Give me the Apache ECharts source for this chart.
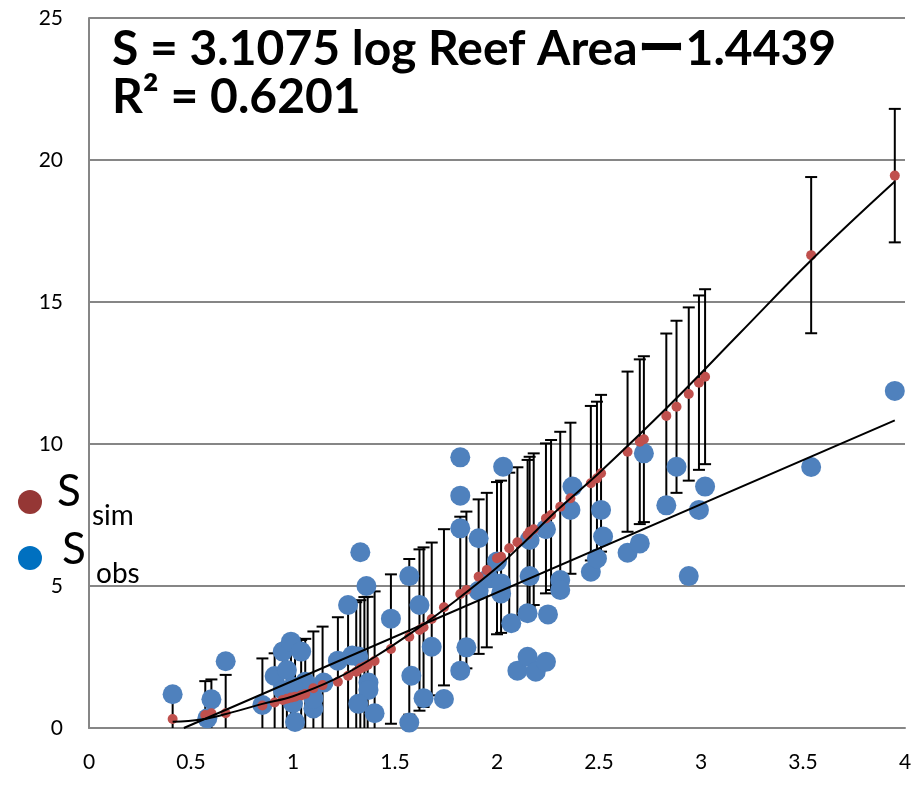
<!DOCTYPE html>
<html>
<head>
<meta charset="utf-8">
<script src="https://cdn.jsdelivr.net/npm/echarts@6/dist/echarts.min.js"></script>
<style>
html, body { margin: 0; padding: 0; background: #fff; }
#chart { width: 915px; height: 791px; }
</style>
</head>
<body>
<div id="chart"></div>
<script>
// simulated richness (red) + error half-widths
const simX = [0.41, 0.57, 0.60, 0.67, 0.85, 0.91, 0.95, 0.97, 0.99, 1.01, 1.04, 1.06, 1.10, 1.145, 1.22,
  1.27, 1.31, 1.33, 1.35, 1.366, 1.40, 1.48, 1.57, 1.62, 1.64, 1.68, 1.74, 1.82, 1.85, 1.91,
  1.95, 2.00, 2.02, 2.06, 2.10, 2.15, 2.16, 2.18, 2.24, 2.265, 2.31, 2.36, 2.46, 2.49, 2.51,
  2.64, 2.70, 2.72, 2.83, 2.88, 2.94, 2.99, 3.02, 3.54, 3.95];
const simY = [0.32, 0.46, 0.52, 0.52, 0.79, 0.90, 0.99, 1.03, 1.07, 1.10, 1.15, 1.20, 1.40, 1.51, 1.63,
  1.84, 1.98, 2.10, 2.16, 2.22, 2.36, 2.78, 3.21, 3.45, 3.55, 3.84, 4.25, 4.72, 4.86, 5.33,
  5.56, 5.98, 6.03, 6.33, 6.54, 6.80, 6.91, 7.00, 7.38, 7.50, 7.79, 8.09, 8.62, 8.79, 8.97,
  9.73, 10.08, 10.17, 10.99, 11.31, 11.76, 12.16, 12.37, 16.65, 19.45];
const simErr = [0.85, 1.19, 1.19, 1.35, 1.66, 1.73, 1.95, 2.0, 2.0, 2.05, 1.95, 1.94, 2.0, 2.06, 2.27,
  2.55, 2.45, 2.4, 2.45, 2.4, 2.45, 2.63, 2.74, 2.84, 2.81, 2.69, 2.75, 2.72, 2.76, 2.72,
  2.72, 2.68, 2.68, 2.66, 2.64, 2.64, 2.64, 2.67, 2.64, 2.64, 2.64, 2.66, 2.72, 2.7, 2.76,
  2.82, 2.9, 2.92, 2.9, 3.03, 3.05, 3.07, 3.08, 2.75, 2.35];

// observed richness (blue)
const obsX = [0.41, 0.58, 0.60, 0.67, 0.85, 0.91, 0.95, 0.99, 1.04, 0.97, 0.95, 1.01, 1.00, 1.06, 1.00,
  1.10, 1.10, 1.15, 1.22, 1.29, 1.32, 1.33, 1.36, 1.27, 1.48, 1.37, 1.37, 1.32, 1.40, 1.57,
  1.62, 1.68, 1.58, 1.64, 1.74, 1.57, 1.82, 1.82, 2.03, 1.82, 1.91, 1.82, 1.85, 1.91, 1.96,
  2.00, 2.02, 2.02, 2.07, 2.15, 2.16, 2.16, 2.25, 2.10, 2.15, 2.19, 2.24, 2.24, 2.31, 2.31,
  2.37, 2.36, 2.46, 2.49, 2.51, 2.52, 2.64, 2.70, 2.72, 2.88, 2.83, 3.02, 2.99, 2.94, 3.54, 3.95];
const obsY = [1.19, 0.34, 1.01, 2.35, 0.81, 1.83, 2.69, 3.04, 2.69, 2.04, 1.34, 0.21, 0.87, 1.63, 1.45,
  0.69, 1.04, 1.60, 2.37, 2.55, 2.52, 6.19, 5.00, 4.33, 3.85, 1.60, 1.34, 0.85, 0.52, 5.35,
  4.33, 2.86, 1.84, 1.05, 1.02, 0.19, 9.53, 8.18, 9.20, 7.03, 6.68, 2.02, 2.84, 4.83, 5.27,
  5.86, 4.74, 5.09, 3.69, 4.04, 5.35, 6.62, 4.00, 2.02, 2.51, 1.98, 2.33, 7.00, 5.21, 4.86,
  8.50, 7.68, 5.50, 5.97, 7.68, 6.74, 6.17, 6.50, 9.67, 9.20, 7.84, 8.50, 7.68, 5.35, 9.19, 11.87];

// trend lines
const simTrendX = [0.41, 0.55, 0.70, 0.85, 1.00, 1.20, 1.40, 1.62, 1.80, 2.00, 2.11, 2.30, 2.50, 2.85, 3.19, 3.55, 3.95];
const simTrendY = [0.22, 0.30, 0.55, 0.85, 1.12, 1.70, 2.50, 3.55, 4.50, 5.65, 6.38, 7.70, 8.98, 11.40, 13.90, 16.54, 19.24];
const obsTrendX = [0.465, 3.95];
const obsTrendY = [0, 10.83];

const xTicks = [0, 0.5, 1, 1.5, 2, 2.5, 3, 3.5, 4];

const zip = (a, b) => a.map((v, i) => [v, b[i]]);

const chart = echarts.init(document.getElementById('chart'));

const labelFont = { fontFamily: 'Lato', fontSize: 21, color: '#000' };

const option = {
  animation: false,
  grid: { left: 89, right: 10, top: 18, bottom: 63 },
  xAxis: {
    type: 'value',
    min: 0,
    max: 4,
    interval: 0.5,
    axisLine: { show: true, lineStyle: { color: '#868686', width: 2 } },
    axisTick: { show: false },
    splitLine: { show: false },
    axisLabel: {
      ...labelFont,
      margin: 24,
      formatter: (v) => (xTicks.includes(v) ? String(v) : '')
    }
  },
  yAxis: {
    type: 'value',
    min: 0,
    max: 25,
    interval: 5,
    axisLine: { show: true, lineStyle: { color: '#868686', width: 2 } },
    axisTick: { show: false },
    splitLine: { show: true, lineStyle: { color: '#868686', width: 2 } },
    axisLabel: { ...labelFont, margin: 26 }
  },
  series: [
    {
      // error bars of S sim
      type: 'custom',
      z: 2,
      data: simX.map((x, i) => [x, simY[i] - simErr[i], simY[i] + simErr[i]]),
      encode: { x: 0, y: [1, 2] },
      renderItem: function (params, api) {
        const x = api.value(0);
        const lo = api.value(1);
        const top = api.coord([x, api.value(2)]);
        const bot = api.coord([x, Math.max(0, lo)]);
        const w = 6;
        const st = { stroke: '#000', lineWidth: 2 };
        const children = [
          { type: 'line', shape: { x1: top[0], y1: top[1], x2: bot[0], y2: bot[1] }, style: st },
          { type: 'line', shape: { x1: top[0] - w, y1: top[1], x2: top[0] + w, y2: top[1] }, style: st }
        ];
        if (lo > 0) {
          children.push({ type: 'line', shape: { x1: bot[0] - w, y1: bot[1], x2: bot[0] + w, y2: bot[1] }, style: st });
        }
        return { type: 'group', children: children };
      }
    },
    {
      name: 'S obs',
      type: 'scatter',
      z: 3,
      symbolSize: 20,
      itemStyle: { color: '#4F81BD', opacity: 1 },
      data: zip(obsX, obsY)
    },
    {
      name: 'S sim',
      type: 'scatter',
      z: 4,
      symbolSize: 10,
      itemStyle: { color: '#C0504D', opacity: 1 },
      data: zip(simX, simY)
    },
    {
      type: 'line',
      z: 5,
      smooth: 0.4,
      symbol: 'none',
      lineStyle: { color: '#000', width: 2 },
      data: zip(simTrendX, simTrendY)
    },
    {
      type: 'line',
      z: 5,
      symbol: 'none',
      lineStyle: { color: '#000', width: 2 },
      data: zip(obsTrendX, obsTrendY)
    }
  ],
  graphic: [
    { type: 'text', x: 112, y: 50, z: 10,
      style: { text: 'S = 3.1075 log Reef Areaー1.4439', font: 'bold 48px Lato, "Noto Sans CJK JP"', fill: '#000', verticalAlign: 'middle' } },
    { type: 'text', x: 112, y: 98, z: 10,
      style: { text: 'R² = 0.6201', font: 'bold 48px Lato', fill: '#000', verticalAlign: 'middle' } },
    // legend
    { type: 'circle', shape: { cx: 30, cy: 502, r: 12 }, style: { fill: '#953735' }, z: 10 },
    { type: 'text', x: 57, y: 514, z: 10, style: { text: 'S', font: '44px Lato', fill: '#000', verticalAlign: 'bottom' } },
    { type: 'text', x: 92, y: 530, z: 10, style: { text: 'sim', font: '28px Lato', fill: '#000', verticalAlign: 'bottom' } },
    { type: 'circle', shape: { cx: 30, cy: 558, r: 12 }, style: { fill: '#0070C0' }, z: 10 },
    { type: 'text', x: 62, y: 572, z: 10, style: { text: 'S', font: '44px Lato', fill: '#000', verticalAlign: 'bottom' } },
    { type: 'text', x: 96, y: 588, z: 10, style: { text: 'obs', font: '28px Lato', fill: '#000', verticalAlign: 'bottom' } }
  ]
};

chart.setOption(option);
</script>
</body>
</html>
